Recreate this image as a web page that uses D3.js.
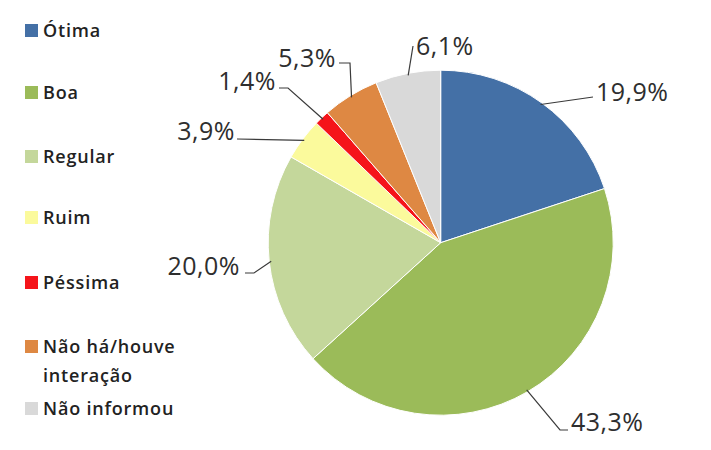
<!DOCTYPE html>
<html>
<head>
<meta charset="utf-8">
<script src="https://cdn.jsdelivr.net/npm/d3@7"></script>
<style>
  html, body { margin: 0; padding: 0; background: #fff; }
  svg { display: block; }
</style>
</head>
<body>
<svg id="chart" width="711" height="450"></svg>
<script>
// Avaliação da interação — percentual por categoria
const categories = ["Ótima", "Boa", "Regular", "Ruim", "Péssima", "Não há/houve interação", "Não informou"];
const values = [19.9, 43.3, 20.0, 3.9, 1.4, 5.3, 6.1];
const valueLabels = ["19,9%", "43,3%", "20,0%", "3,9%", "1,4%", "5,3%", "6,1%"];
const legendLines = [["Ótima"], ["Boa"], ["Regular"], ["Ruim"], ["Péssima"], ["Não há/houve", "interação"], ["Não informou"]];
const colors = ["#4470A6", "#9BBB59", "#C4D79B", "#FBFA9C", "#F5141A", "#DE8843", "#D9D9D9"];

// Label placement: text anchor point and leader elbow, relative to the chart
const labelLayout = [
  { tx: 596, ty: 101, anchor: "start", elbow: null,        end: [593, 97] },
  { tx: 571, ty: 431, anchor: "start", elbow: [560, 430],  end: [568, 430] },
  { tx: 240, ty: 275, anchor: "end",   elbow: [254, 273],  end: [245, 273] },
  { tx: 235, ty: 140, anchor: "end",   elbow: null,        end: [237, 139] },
  { tx: 276, ty: 90,  anchor: "end",   elbow: [288, 88],   end: [279, 88] },
  { tx: 336, ty: 67,  anchor: "end",   elbow: [350, 63],   end: [339, 63] },
  { tx: 416, ty: 55,  anchor: "start", elbow: null,        end: [413, 46] }
];

const svg = d3.select("#chart");
const cx = 440.7, cy = 242.7, radius = 172.5;

const data = categories.map((c, i) => ({ category: c, value: values[i], label: valueLabels[i], i }));

const pie = d3.pie().sort(null).value(d => d.value);
const arcs = pie(data);
const arc = d3.arc().innerRadius(0).outerRadius(radius);

const color = d3.scaleOrdinal().domain(categories).range(colors);

const g = svg.append("g").attr("transform", `translate(${cx},${cy})`);

g.selectAll("path.slice")
  .data(arcs)
  .join("path")
  .attr("class", "slice")
  .attr("d", arc)
  .attr("fill", d => color(d.data.category))
  .attr("stroke", "#fff")
  .attr("stroke-width", 1);

// Leader lines from the slice edge to the label
const line = d3.line();
svg.selectAll("path.leader")
  .data(arcs)
  .join("path")
  .attr("class", "leader")
  .attr("d", d => {
    const L = labelLayout[d.data.i];
    const a = (d.startAngle + d.endAngle) / 2;
    const p0 = [cx + Math.sin(a) * (radius - 2), cy - Math.cos(a) * (radius - 2)];
    const pts = [p0];
    if (L.elbow) pts.push(L.elbow);
    pts.push(L.end);
    return line(pts);
  })
  .attr("fill", "none")
  .attr("stroke", "#3a3a3a")
  .attr("stroke-width", 1.2);

svg.selectAll("text.value")
  .data(arcs)
  .join("text")
  .attr("class", "value")
  .attr("x", d => labelLayout[d.data.i].tx)
  .attr("y", d => labelLayout[d.data.i].ty)
  .attr("text-anchor", d => labelLayout[d.data.i].anchor)
  .attr("font-family", "'Open Sans', sans-serif")
  .attr("font-size", 25)
  .attr("letter-spacing", 0.5)
  .attr("fill", "#2e2e2e")
  .text(d => d.data.label);

// Legend
const legendY = [37, 99, 163, 224, 289, 353, 415];
const legend = svg.append("g");
const items = legend.selectAll("g.item")
  .data(data)
  .join("g")
  .attr("class", "item")
  .attr("transform", d => `translate(25,${legendY[d.i]})`);

items.append("rect")
  .attr("x", 0).attr("y", -13)
  .attr("width", 13).attr("height", 13)
  .attr("fill", d => color(d.category));

items.append("text")
  .attr("x", 18)
  .attr("y", 0)
  .attr("font-family", "'Open Sans', sans-serif")
  .attr("font-weight", 600)
  .attr("font-size", 18)
  .attr("letter-spacing", 0.8)
  .attr("fill", "#222")
  .selectAll("tspan")
  .data(d => legendLines[d.i])
  .join("tspan")
  .attr("x", 18)
  .attr("dy", (t, k) => k === 0 ? 0 : 29)
  .text(t => t);
</script>
</body>
</html>
